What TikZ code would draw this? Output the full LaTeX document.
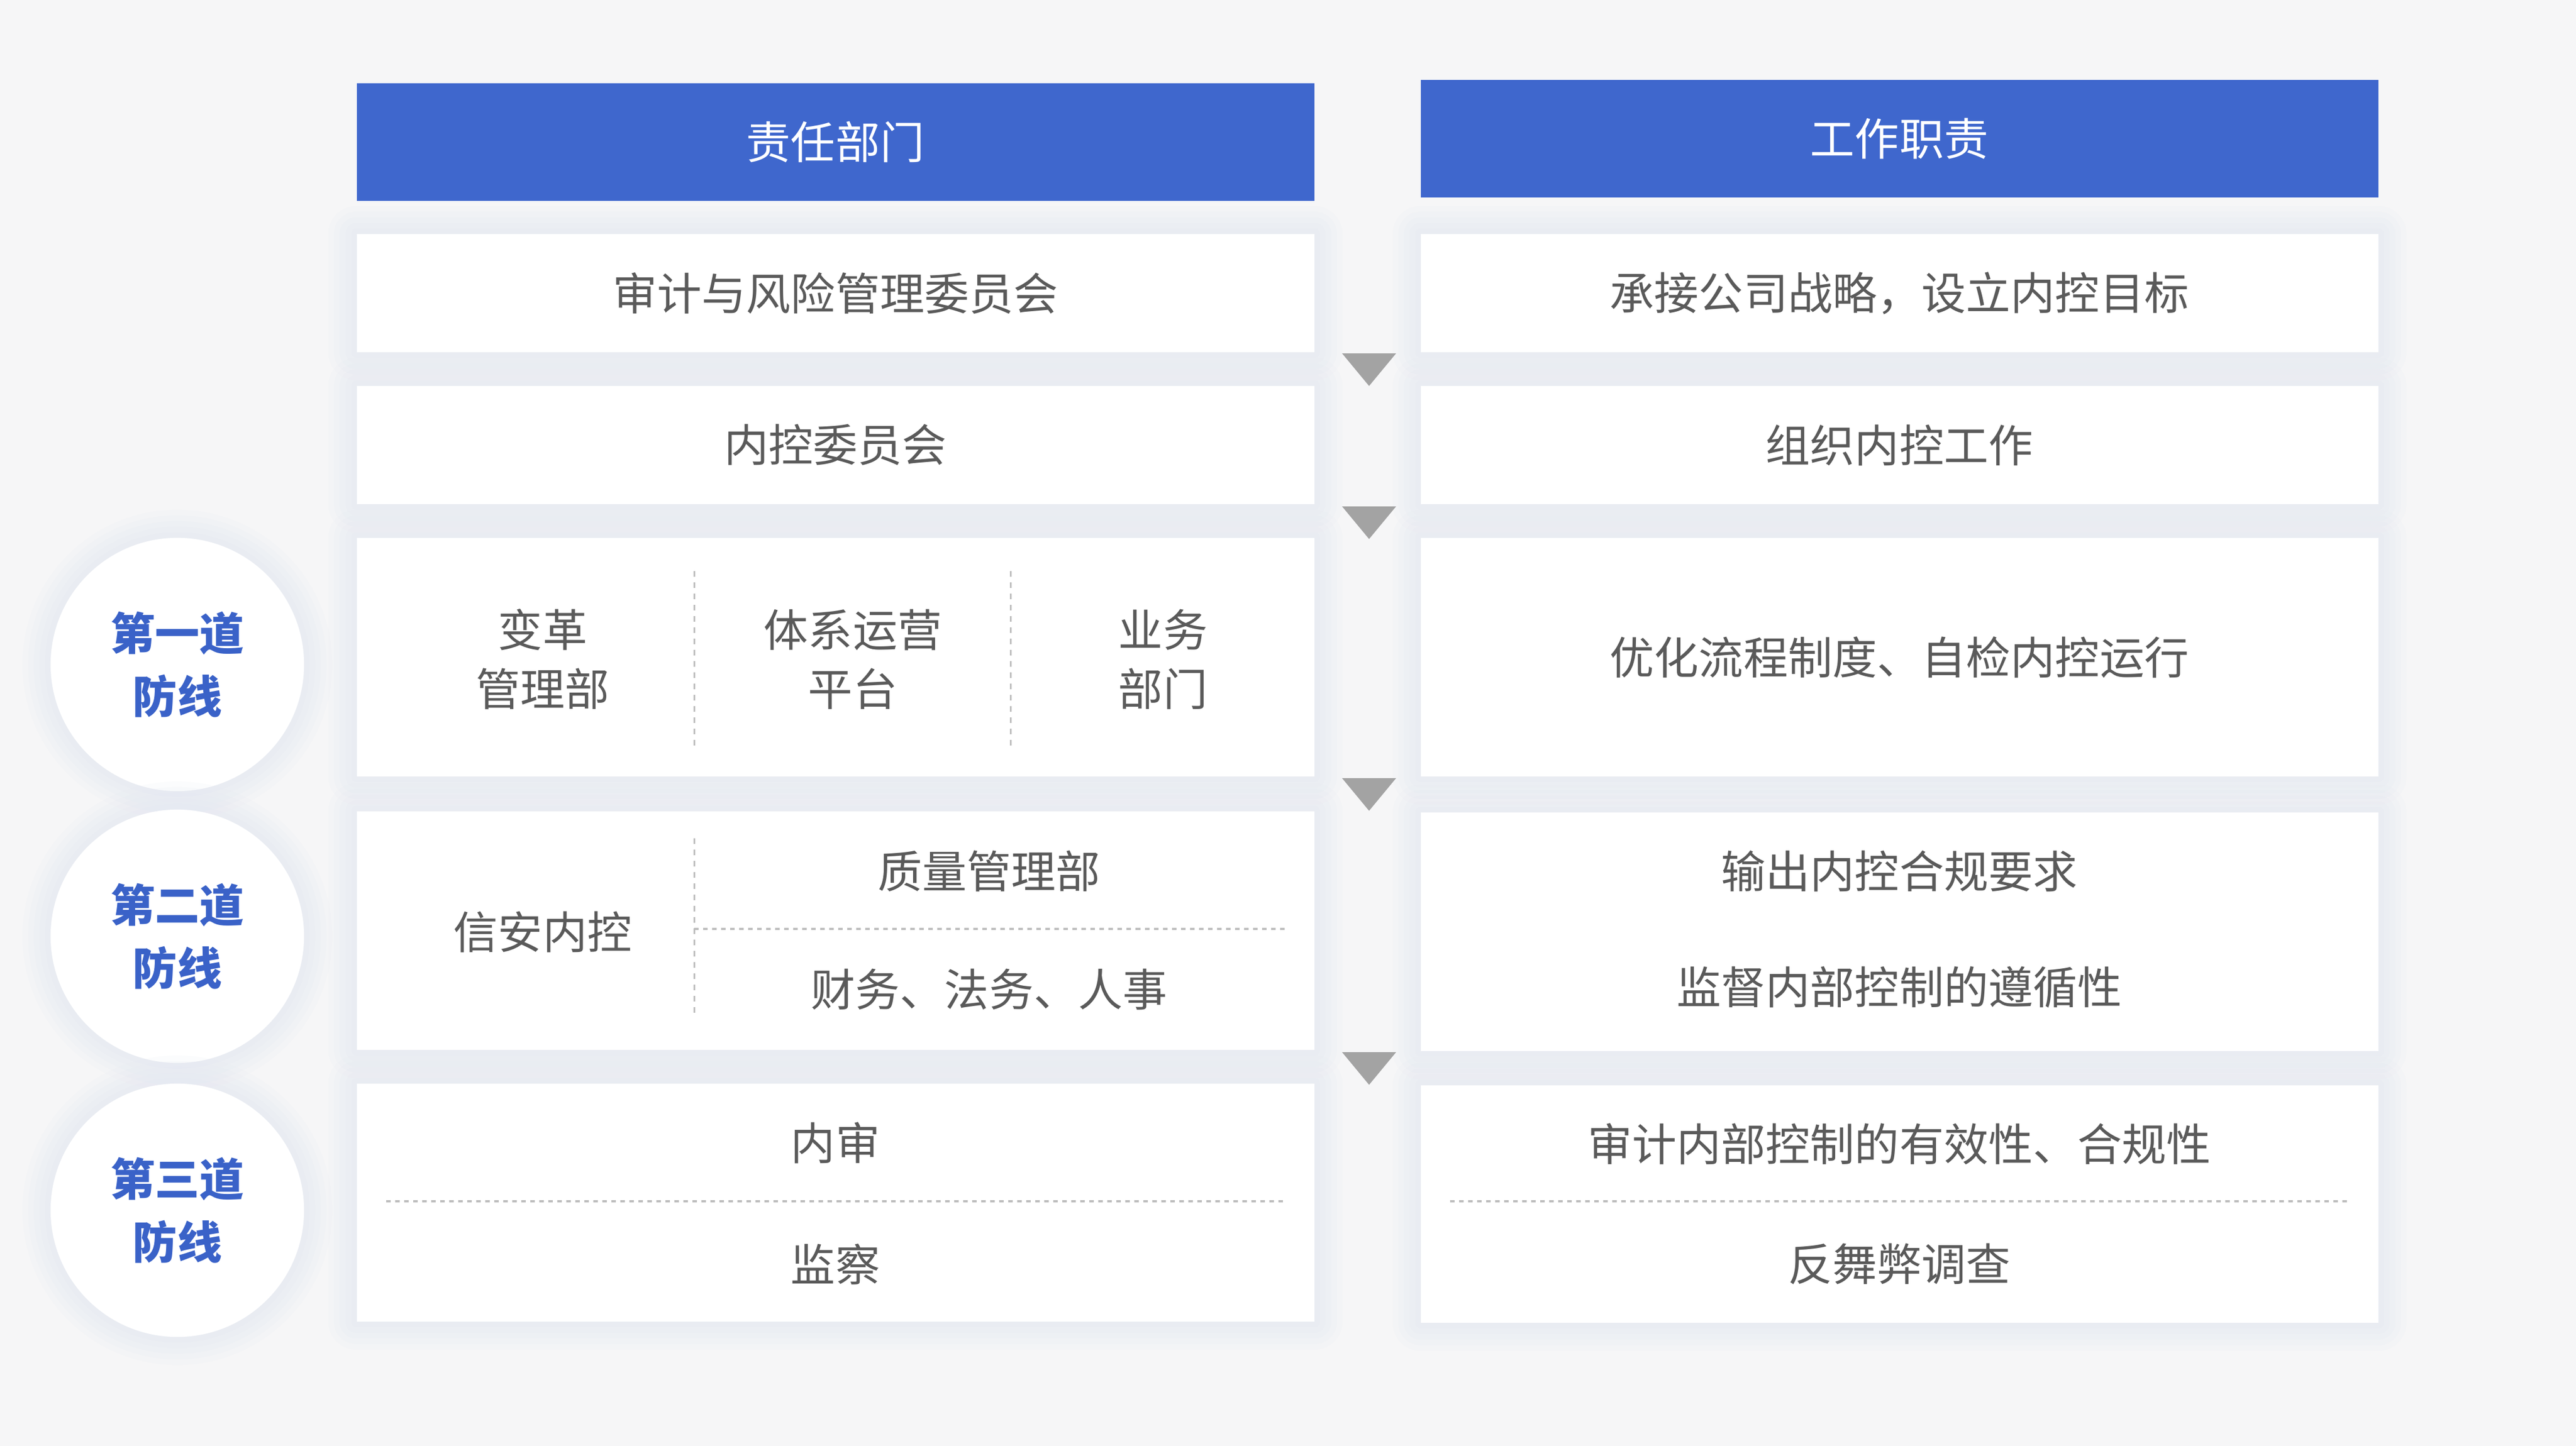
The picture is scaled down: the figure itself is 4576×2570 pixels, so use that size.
\documentclass[tikz,border=0pt]{standalone}
\usepackage{fontspec}
\usepackage{tikz}
\newfontfamily\cjk{Noto Sans CJK SC}

\definecolor{bgc}{HTML}{F6F6F7}
\definecolor{headblue}{HTML}{3F67CD}
\definecolor{txtgray}{HTML}{5A5A5A}
\definecolor{lineblue}{HTML}{3A62C8}
\definecolor{arrowc}{HTML}{A3A3A3}
\definecolor{dashc}{HTML}{BDBDBD}
\definecolor{shadowc}{HTML}{E4E8F2}

\tikzset{
  halo/.style={
    preaction={draw=shadowc, line width=1.0cm, line join=round, opacity=.12},
    preaction={draw=shadowc, line width=.8cm, line join=round, opacity=.15},
    preaction={draw=shadowc, line width=.6cm, line join=round, opacity=.18},
    preaction={draw=shadowc, line width=.4cm, line join=round, opacity=.22},
    preaction={draw=shadowc, line width=.2cm, line join=round, opacity=.28}},
  head/.style={fill=headblue, minimum width=17cm, minimum height=2.09cm, inner sep=0pt,
    text=white, font=\cjk\fontsize{22.5}{30}\selectfont},
  cell/.style={fill=white, halo, minimum width=17cm, inner sep=0pt},
  label/.style={text=txtgray, align=center, inner sep=0pt, font=\cjk\fontsize{22.5}{29.9}\selectfont},
  line/.style={circle, fill=white, halo, minimum size=4.5cm, inner sep=0pt, align=center,
    text=lineblue, font=\cjk\bfseries\fontsize{22.5}{31.9}\selectfont},
  divv/.style={dashc, line width=0.03cm, dash pattern=on 0.1cm off 0.1cm},
  divh/.style={dashc, line width=0.04cm, dash pattern=on 0.08cm off 0.08cm}
}

\begin{document}
\begin{tikzpicture}[x=0.01cm, y=-0.01cm]
  \fill[bgc] (0,0) rectangle (4576,2570);
  \useasboundingbox (0,0) rectangle (4576,2570);

  \node[head] (hdept) at (1484,252.5) {责任部门};
  \node[head] (hduty) at (3374,246.5) {工作职责};

  \node[cell, minimum height=2.1cm] (d1) at (1484,521) {};
  \node[cell, minimum height=2.1cm] (d2) at (1484,791) {};
  \node[cell, minimum height=4.24cm] (d3) at (1484,1168) {};
  \node[cell, minimum height=4.24cm] (d4) at (1484,1654) {};
  \node[cell, minimum height=4.23cm] (d5) at (1484,2137.5) {};

  \node[cell, minimum height=2.1cm] (u1) at (3374,521) {};
  \node[cell, minimum height=2.1cm] (u2) at (3374,791) {};
  \node[cell, minimum height=4.24cm] (u3) at (3374,1168) {};
  \node[cell, minimum height=4.24cm] (u4) at (3374,1656) {};
  \node[cell, minimum height=4.22cm] (u5) at (3374,2140) {};

  \node[line] (l1) at (315,1181) {第一道\\防线};
  \node[line] (l2) at (315,1664) {第二道\\防线};
  \node[line] (l3) at (315,2151) {第三道\\防线};

  \foreach \y in {628,900,1383,1870}
    \fill[arrowc] (2384,\y) -- (2480,\y) -- (2432,\y+58) -- cycle;

  \node[label] (audit) at (d1) {审计与风险管理委员会};
  \node[label] (icc) at (d2) {内控委员会};
  \node[label] (reform) at (964,1172) {变革\\管理部};
  \node[label] (ops) at (1515,1172) {体系运营\\平台};
  \node[label] (biz) at (2066,1172) {业务\\部门};
  \draw[divv] (1233,1015) -- (1233,1331);
  \draw[divv] (1795,1015) -- (1795,1331);

  \node[label] (infosec) at (964,1656) {信安内控};
  \node[label] (quality) at (1757,1548) {质量管理部};
  \node[label] (finance) at (1757,1758) {财务、法务、人事};
  \draw[divv] (1233,1490) -- (1233,1806);
  \draw[divh] (1233,1651) -- (2283,1651);

  \node[label] (inaudit) at (1484,2031) {内审};
  \node[label] (supervise) at (1484,2247) {监察};
  \draw[divh] (686,2135) -- (2283,2135);

  \node[label] (strategy) at (u1) {承接公司战略，设立内控目标};
  \node[label] (organize) at (u2) {组织内控工作};
  \node[label] (optimize) at (3374,1168) {优化流程制度、自检内控运行};
  \node[label] (output) at (3374,1548) {输出内控合规要求};
  \node[label] (comply) at (3374,1755) {监督内部控制的遵循性};
  \node[label] (effect) at (3374,2033) {审计内部控制的有效性、合规性};
  \node[label] (fraud) at (3374,2247) {反舞弊调查};
  \draw[divh] (2576,2135) -- (4172,2135);
\end{tikzpicture}
\end{document}
